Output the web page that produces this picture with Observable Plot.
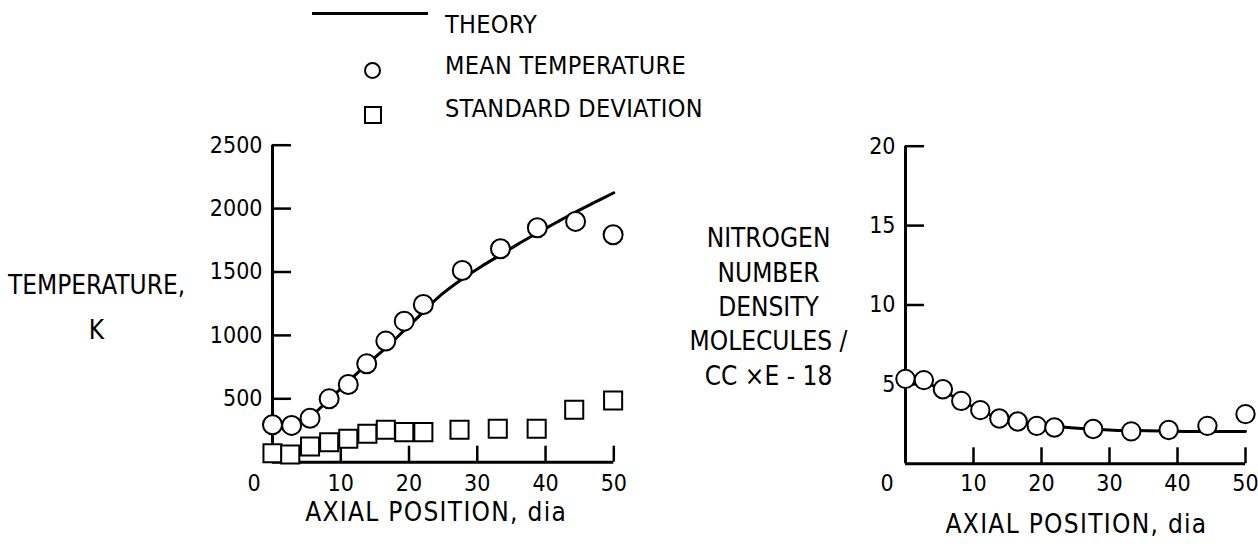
<!DOCTYPE html>
<html>
<head>
<meta charset="utf-8">
<script src="https://cdn.jsdelivr.net/npm/d3@7"></script>
<script src="https://cdn.jsdelivr.net/npm/@observablehq/plot@0.6"></script>
<style>
  html, body { margin: 0; padding: 0; background: #fff; }
  body { width: 1258px; height: 546px; position: relative; overflow: hidden;
         font-family: "Liberation Sans Narrow", "DejaVu Sans Condensed", "Roboto Condensed", sans-serif; color: #000; }
  #left, #right { position: absolute; top: 0; }
  #left { left: 0; }
  #right { left: 650px; }
  #legend { position: absolute; left: 0; top: 0; width: 800px; height: 135px; }
  .lg { position: absolute; left: 445px; font-size: 25px; line-height: 1; white-space: nowrap; letter-spacing: 0.3px; }
</style>
</head>
<body>
<div id="left"></div>
<div id="right"></div>
<div id="legend">
  <svg width="440" height="135" style="position:absolute;left:0;top:0">
    <line x1="312" x2="428" y1="13.5" y2="13.5" stroke="#000" stroke-width="3"></line>
    <circle cx="372.5" cy="70.5" r="7.5" fill="#fff" stroke="#000" stroke-width="2"></circle>
    <rect x="365" y="107" width="16" height="16" fill="#fff" stroke="#000" stroke-width="2"></rect>
  </svg>
  <div class="lg" style="top:12px">THEORY</div>
  <div class="lg" style="top:53px">MEAN TEMPERATURE</div>
  <div class="lg" style="top:96px">STANDARD DEVIATION</div>
</div>
<script>
// ---- data ----
const tempX      = [0, 2.8, 5.5, 8.3, 11.1, 13.8, 16.6, 19.3, 22.1, 27.8, 33.4, 38.8, 44.4, 49.9];
const meanTemp   = [295, 290, 347, 500, 613, 776, 955, 1112, 1244, 1512, 1683, 1849, 1899, 1794];
const sdX        = [0, 2.6, 5.5, 8.3, 11.1, 13.9, 16.6, 19.3, 22.1, 27.4, 33.0, 38.7, 44.2, 49.9];
const stdDev     = [71, 61, 124, 158, 185, 224, 256, 237, 237, 256, 264, 264, 413, 487];
const theoryTX   = [0, 2.8, 4.2, 5.5, 8.3, 11.1, 13.9, 16.7, 19.4, 22.2, 24.6, 27.8, 30.5, 33.4, 35.9, 38.8, 41.7, 44.4, 47.1, 50];
const theoryT    = [285, 295, 316, 355, 495, 635, 775, 905, 1045, 1190, 1315, 1445, 1540, 1635, 1718, 1807, 1894, 1973, 2047, 2125];

const densX      = [0, 2.7, 5.5, 8.2, 11.0, 13.8, 16.5, 19.3, 21.9, 27.6, 33.2, 38.7, 44.4, 50];
const density    = [5.35, 5.27, 4.69, 3.96, 3.38, 2.85, 2.66, 2.39, 2.29, 2.19, 2.04, 2.13, 2.39, 3.13];
const theoryDX   = [0, 2.7, 4.2, 6.9, 9.7, 12.5, 15.2, 17.9, 20.6, 24.8, 30.6, 35.5, 41.4, 50];
const theoryD    = [5.2, 5.1, 4.89, 4.27, 3.64, 3.08, 2.75, 2.54, 2.39, 2.25, 2.12, 2.08, 2.04, 2.04];

const xTicks     = [10, 20, 30, 40, 50];
const xZero      = [0];
const tempTicks  = [500, 1000, 1500, 2000, 2500];
const densTicks  = [5, 10, 15, 20];
const xTitle     = ["AXIAL POSITION, dia"];
const tempTitle  = ["TEMPERATURE,\nK"];
const densTitle  = ["NITROGEN\nNUMBER\nDENSITY\nMOLECULES /\nCC \u00d7E - 18"];

const zip = (xs, ys) => xs.map((x, i) => ({x, y: ys[i]}));
const FONT = '"Liberation Sans Narrow", "DejaVu Sans Condensed", "Roboto Condensed", sans-serif';
const TICK_FS = 23;

function axes(yTicks, opts) {
  return [
    Plot.ruleX([0], {strokeWidth: 3}),
    Plot.ruleY([0], {strokeWidth: 3}),
    // inward ticks
    Plot.axisX({ticks: xTicks, tickSize: 16, dy: -16, strokeWidth: 2.5, tickFormat: () => "", label: null}),
    Plot.axisY({ticks: yTicks, tickSize: 19, dx: 19, strokeWidth: 2.5, tickFormat: () => "", label: null}),
    // labels
    Plot.axisX({ticks: xTicks, tickSize: 0, tickPadding: opts.xPad, fontSize: TICK_FS, tickFormat: d3.format("d"), label: null}),
    Plot.axisY({ticks: yTicks, tickSize: 0, tickPadding: 10, fontSize: TICK_FS, tickFormat: d3.format("d"), label: null}),
    Plot.text(xZero, {x: d => d, frameAnchor: "bottom", dx: -18.5, lineAnchor: "top", dy: opts.xPad, fontSize: TICK_FS, text: d => String(d)}),
    Plot.text(xTitle, {frameAnchor: "bottom", dx: opts.titleDx, dy: opts.titleDy, fontSize: 26, text: d => d})
  ];
}

const left = Plot.plot({
  width: 650, height: 546,
  marginLeft: 272, marginRight: 36.7, marginTop: 144.7, marginBottom: 84.3,
  style: {fontFamily: FONT, background: "#fff", color: "#000", overflow: "visible"},
  x: {domain: [0, 50], axis: null},
  y: {domain: [0, 2500], axis: null},
  marks: [
    ...axes(tempTicks, {xPad: 12, titleDx: -7, titleDy: 59}),
    Plot.text(tempTitle, {frameAnchor: "left", dx: -176, dy: -2, fontSize: 26, lineHeight: 1.73, textAnchor: "middle", text: d => d}),
    Plot.line(zip(theoryTX, theoryT), {x: "x", y: "y", strokeWidth: 3, curve: "catmull-rom"}),
    Plot.dot(zip(sdX, stdDev), {x: "x", y: "y", symbol: "square", r: 10.2, fill: "#fff", stroke: "#000", strokeWidth: 2}),
    Plot.dot(zip(tempX, meanTemp), {x: "x", y: "y", r: 9.5, fill: "#fff", stroke: "#000", strokeWidth: 2})
  ]
});
document.getElementById("left").append(left);

const right = Plot.plot({
  width: 608, height: 546,
  marginLeft: 255, marginRight: 13, marginTop: 145.7, marginBottom: 82.7,
  style: {fontFamily: FONT, background: "transparent", color: "#000", overflow: "visible"},
  x: {domain: [0, 50], axis: null},
  y: {domain: [0, 20], axis: null},
  marks: [
    ...axes(densTicks, {xPad: 11, titleDx: 1, titleDy: 68.7}),
    Plot.text(densTitle, {frameAnchor: "left", dx: -137, dy: 0, fontSize: 26, lineHeight: 1.32, textAnchor: "middle", text: d => d}),
    Plot.line(zip(theoryDX, theoryD), {x: "x", y: "y", strokeWidth: 3, curve: "catmull-rom"}),
    Plot.dot(zip(densX, density), {x: "x", y: "y", r: 9.2, fill: "#fff", stroke: "#000", strokeWidth: 2})
  ]
});
document.getElementById("right").append(right);

// widen the letter spacing of the axis titles, as in the reference lettering
for (const svg of [left, right]) {
  d3.select(svg).selectAll("text")
    .filter(function () { return this.textContent === xTitle[0]; })
    .style("letter-spacing", "1.3px");
}
</script>
</body>
</html>
